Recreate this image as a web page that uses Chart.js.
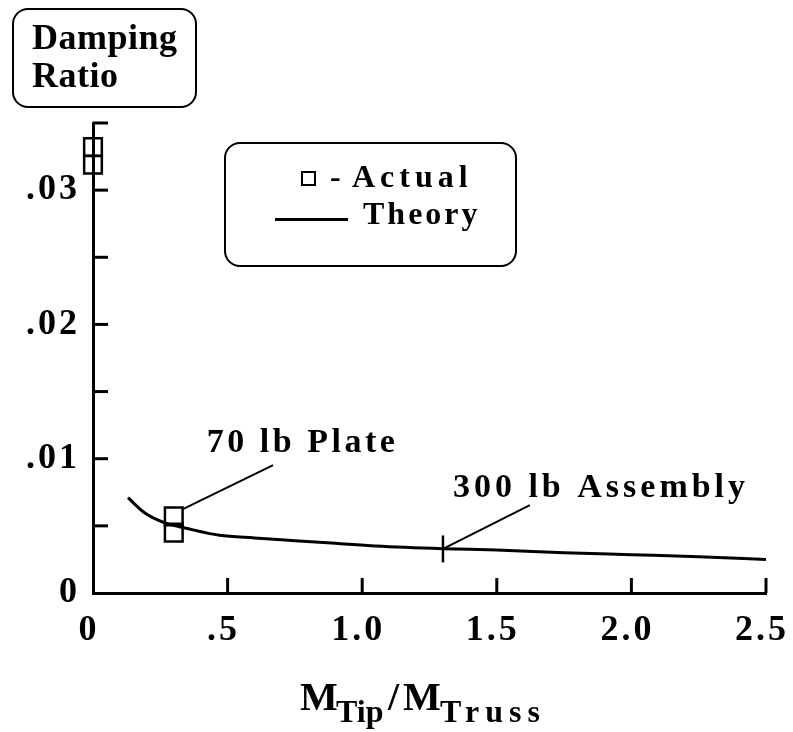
<!DOCTYPE html>
<html><head><meta charset="utf-8">
<script src="https://cdn.jsdelivr.net/npm/chart.js@4.4.1/dist/chart.umd.min.js"></script>
<style>
html,body{margin:0;padding:0;background:#fff;}
#wrap{position:relative;width:793px;height:732px;overflow:hidden;background:#fff;}
canvas{position:absolute;left:0;top:0;}
.f{font-family:"Liberation Serif","Times New Roman",serif;font-weight:bold;color:#000;position:absolute;white-space:nowrap;line-height:1;}
.box{position:absolute;border:2px solid #000;border-radius:16px;box-sizing:border-box;}
</style></head>
<body>
<div id="wrap">
<canvas id="c" width="793" height="732"></canvas>
<div class="box" style="left:12px;top:8px;width:185px;height:100px;"></div>
<div class="f" style="left:32px;top:19px;font-size:36px;letter-spacing:0.5px;">Damping</div>
<div class="f" style="left:32px;top:57px;font-size:36px;letter-spacing:0.5px;">Ratio</div>
<div class="box" style="left:224px;top:142px;width:293px;height:125px;"></div>
<div style="position:absolute;left:301px;top:171px;width:15px;height:15px;border:2px solid #000;box-sizing:border-box;"></div>
<div class="f" style="left:330px;top:160px;font-size:32px;">-</div>
<div class="f" style="left:352px;top:160px;font-size:32px;letter-spacing:5px;">Actual</div>
<div style="position:absolute;left:275px;top:218px;width:73px;height:3px;background:#000;"></div>
<div class="f" style="left:363px;top:197px;font-size:32px;letter-spacing:3px;">Theory</div>
<div class="f" style="left:300px;top:677px;font-size:40px;">M</div>
<div class="f" style="left:336px;top:695px;font-size:32px;letter-spacing:0px;">Tip</div>
<div class="f" style="left:388px;top:677px;font-size:40px;">/</div>
<div class="f" style="left:403px;top:677px;font-size:40px;">M</div>
<div class="f" style="left:440px;top:695px;font-size:32px;letter-spacing:6px;">Truss</div>
</div>
<script>
// ---- data ----
const theoryX = [0.13, 0.19, 0.27, 0.35, 0.47, 0.6, 0.75, 0.9, 1.05, 1.3, 1.5, 1.75, 2.0, 2.25, 2.5];
const theoryY = [0.0071, 0.0060, 0.0052, 0.0048, 0.0043, 0.0041, 0.0039, 0.0037, 0.0035, 0.0033, 0.0032, 0.0030, 0.00285, 0.0027, 0.0025];
const actualX = [0, 0, 0.3, 0.3];
const actualY = [0.0332, 0.0319, 0.0057, 0.0045];
const assemblyX = [1.3];
const assemblyY = [0.00328];
const xTickValues = [0, 0.5, 1.0, 1.5, 2.0, 2.5];
const xTickLabels = ['0', '.5', '1.0', '1.5', '2.0', '2.5'];
const yTickValues = [0, 0.01, 0.02, 0.03];
const yTickLabels = ['0', '.01', '.02', '.03'];

const zip = (xs, ys) => xs.map((x, i) => ({x: x, y: ys[i]}));
const lookup = (vals, labels, v) => {
  for (let i = 0; i < vals.length; i++) if (Math.abs(vals[i] - v) < 1e-9) return labels[i];
  return '';
};

const notes = [
  {text: '70 lb Plate', spacing: '3.5px', from: [0.334, 0.00625], to: [0.669, 0.00953], at: [0.423, 0.0105]},
  {text: '300 lb Assembly', spacing: '4px', from: [1.3, 0.00328], to: [1.623, 0.00655], at: [1.337, 0.00715]}
];

const FONT = 'Liberation Serif';

const inwardTicks = {
  id: 'inwardTicks',
  beforeDraw(chart) { chart.ctx.letterSpacing = '3px'; },
  afterDraw(chart) {
    const ctx = chart.ctx, xs = chart.scales.x, ys = chart.scales.y, a = chart.chartArea;
    ctx.save();
    ctx.letterSpacing = '0px';
    ctx.strokeStyle = '#000';
    ctx.lineWidth = 3;
    ys.ticks.forEach(t => {
      if (t.value === 0) return;
      const p = ys.getPixelForValue(t.value);
      ctx.beginPath(); ctx.moveTo(a.left, p); ctx.lineTo(a.left + 15, p); ctx.stroke();
    });
    xs.ticks.forEach(t => {
      if (t.value === 0) return;
      const p = xs.getPixelForValue(t.value);
      ctx.beginPath(); ctx.moveTo(p, a.bottom); ctx.lineTo(p, a.bottom - 15); ctx.stroke();
    });
    // annotations
    ctx.lineWidth = 2;
    notes.forEach(n => {
      ctx.beginPath();
      ctx.moveTo(xs.getPixelForValue(n.from[0]), ys.getPixelForValue(n.from[1]));
      ctx.lineTo(xs.getPixelForValue(n.to[0]), ys.getPixelForValue(n.to[1]));
      ctx.stroke();
      ctx.font = 'bold 34px "' + FONT + '"';
      ctx.letterSpacing = n.spacing;
      ctx.fillStyle = '#000';
      ctx.textBaseline = 'alphabetic';
      ctx.textAlign = 'left';
      ctx.fillText(n.text, xs.getPixelForValue(n.at[0]), ys.getPixelForValue(n.at[1]));
    });
    ctx.restore();
  }
};

new Chart(document.getElementById('c'), {
  type: 'scatter',
  data: {
    datasets: [
      {
        label: 'Theory', data: zip(theoryX, theoryY), showLine: true,
        borderColor: '#000', borderWidth: 3, pointRadius: 0, tension: 0.4,
        cubicInterpolationMode: 'monotone', fill: false
      },
      {
        label: 'Actual', data: zip(actualX, actualY), showLine: false,
        pointStyle: 'rect', pointRadius: 12.5, borderColor: '#000', borderWidth: 2.5,
        backgroundColor: 'rgba(0,0,0,0)', clip: false
      },
      {
        label: '300 lb Assembly', data: zip(assemblyX, assemblyY), showLine: false,
        pointStyle: 'line', rotation: 90, pointRadius: 13.5, borderColor: '#000', borderWidth: 2.5
      }
    ]
  },
  options: {
    responsive: false, animation: false, devicePixelRatio: 1,
    layout: {padding: {top: 123, right: 27, left: 0, bottom: 0}},
    plugins: {legend: {display: false}, tooltip: {enabled: false}, title: {display: false}},
    scales: {
      x: {
        type: 'linear', min: 0, max: 2.5,
        grid: {display: false, drawTicks: false},
        border: {display: true, color: '#000', width: 3},
        ticks: {
          stepSize: 0.5, color: '#000', padding: 16, maxRotation: 0, labelOffset: -4,
          font: {family: FONT, size: 36, weight: 'bold'},
          callback: v => lookup(xTickValues, xTickLabels, v)
        },
        afterFit: s => { s.height = 139; s.paddingRight = 0; s.paddingLeft = 0; }
      },
      y: {
        type: 'linear', min: 0, max: 0.035,
        grid: {display: false, drawTicks: false},
        border: {display: true, color: '#000', width: 3},
        ticks: {
          stepSize: 0.005, color: '#000', padding: 13, autoSkip: false,
          font: {family: FONT, size: 36, weight: 'bold'},
          callback: v => lookup(yTickValues, yTickLabels, v)
        },
        afterFit: s => { s.width = 93; s.paddingTop = 0; s.paddingBottom = 0; }
      }
    }
  },
  plugins: [inwardTicks]
});
</script>
</body></html>
